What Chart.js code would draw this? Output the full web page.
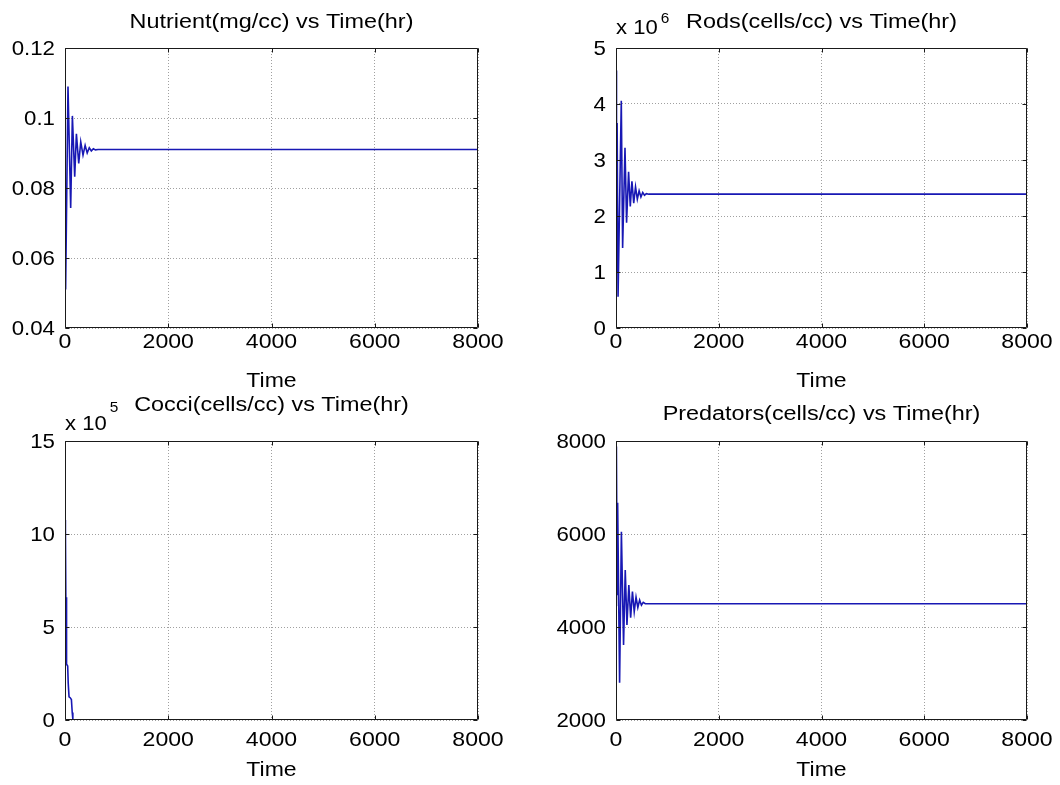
<!DOCTYPE html>
<html lang="en">
<head>
<meta charset="UTF-8">
<title>Rods, Cocci and Predators vs Time</title>
<script src="https://cdn.jsdelivr.net/npm/chart.js"></script>
<style>
  html, body { margin: 0; padding: 0; background: #fff; }
  #wrap { position: relative; width: 1060px; height: 785px; overflow: hidden; }
  .panel { position: absolute; }
</style>
</head>
<body>
<div id="wrap">
  <div class="panel" style="left:0;top:0;width:530px;height:392px"><canvas id="c1"></canvas></div>
  <div class="panel" style="left:530px;top:0;width:530px;height:392px"><canvas id="c2"></canvas></div>
  <div class="panel" style="left:0;top:392px;width:530px;height:393px"><canvas id="c3"></canvas></div>
  <div class="panel" style="left:530px;top:392px;width:530px;height:393px"><canvas id="c4"></canvas></div>
</div>
<script>
// data (time in hours)
const timeTicks = [0, 2000, 4000, 6000, 8000];

const nutrientTime = [0, 12, 58, 110, 143, 188, 221, 266, 305, 349, 390, 430, 470, 510, 550, 590, 640, 8000];
const nutrient = [0.075, 0.051, 0.109, 0.0743, 0.1006, 0.0832, 0.0955, 0.087, 0.0932, 0.0894, 0.0922, 0.0900, 0.0915, 0.0906, 0.0912, 0.0909, 0.091, 0.091];

const rodsTime = [0, 10, 22, 40, 103, 129, 175, 206, 245, 278, 310, 345, 380, 415, 450, 485, 520, 555, 590, 640, 8000];
const rods = [4.6e6, 1.0e6, 3.66e6, 0.56e6, 4.06e6, 1.43e6, 3.22e6, 1.88e6, 2.79e6, 2.17e6, 2.62e6, 2.23e6, 2.52e6, 2.30e6, 2.45e6, 2.34e6, 2.42e6, 2.37e6, 2.40e6, 2.39e6, 2.39e6];

const cocciTime = [0, 8, 20, 26, 34, 52, 62, 78, 100, 124, 140, 152, 170, 900];
const cocci = [10.75e5, 10.3e5, 4.8e5, 6.6e5, 3.0e5, 2.9e5, 2.0e5, 1.25e5, 1.2e5, 1.1e5, 0.4e5, 0.05e5, 0, 0];

const predTime = [0, 8, 22, 32, 70, 105, 147, 180, 213, 250, 285, 320, 355, 390, 425, 460, 495, 530, 570, 8000];
const predators = [4470, 7880, 4700, 6670, 2800, 6050, 3613, 5226, 4043, 4900, 4200, 4760, 4330, 4640, 4420, 4580, 4470, 4530, 4500, 4500];

const lineColor = '#1818b4';
const FONT = '"Liberation Sans", Arial, sans-serif';

function stretchText(ctx, text, x, y, align, size, sx) {
  ctx.font = size + 'px ' + FONT;
  const w = ctx.measureText(text).width * sx;
  let x0 = x;
  if (align === 'center') x0 = x - w / 2;
  if (align === 'right') x0 = x - w;
  ctx.save();
  ctx.translate(x0, y);
  ctx.scale(sx, 1);
  ctx.textAlign = 'left';
  ctx.textBaseline = 'middle';
  ctx.fillText(text, 0, 0);
  ctx.restore();
  return w;
}

// box, inward ticks, tick labels, titles
const decor = {
  id: 'decor',
  afterDraw(chart) {
    const o = chart.options.plugins.decor;
    const { ctx, chartArea: a } = chart;
    const xs = chart.scales.x, ys = chart.scales.y;
    const L = Math.round(a.left) + 0.5, R = Math.round(a.right) - 0.5;
    const T = Math.round(a.top) + 0.5, B = Math.round(a.bottom) - 0.5;
    ctx.save();
    ctx.strokeStyle = '#1a1a1a';
    ctx.lineWidth = 1;
    ctx.beginPath();
    ctx.rect(L, T, R - L, B - T);
    xs.ticks.forEach(t => {
      const px = Math.round(xs.getPixelForValue(t.value)) + 0.5;
      ctx.moveTo(px, B); ctx.lineTo(px, B - 4);
      ctx.moveTo(px, T); ctx.lineTo(px, T + 4);
    });
    ys.ticks.forEach(t => {
      const py = Math.round(ys.getPixelForValue(t.value)) + 0.5;
      ctx.moveTo(L, py); ctx.lineTo(L + 4, py);
      ctx.moveTo(R, py); ctx.lineTo(R - 4, py);
    });
    ctx.stroke();

    ctx.fillStyle = '#000';
    xs.ticks.forEach(t => {
      stretchText(ctx, t.label, xs.getPixelForValue(t.value), a.bottom + o.xLabelOff, 'center', 21, 1.1);
    });
    ys.ticks.forEach(t => {
      stretchText(ctx, t.label, a.left - 10, ys.getPixelForValue(t.value) + 1, 'right', 21, 1.06);
    });
    const cx = (a.left + a.right) / 2;
    stretchText(ctx, o.title, cx, o.titleY, 'center', 20, 1.17);
    stretchText(ctx, 'Time', cx, a.bottom + o.timeOff, 'center', 20, 1.15);
    if (o.exp) {
      const w = stretchText(ctx, 'x 10', a.left, o.expY, 'left', 21, 1.05);
      stretchText(ctx, o.exp, a.left + w + 3, o.supY, 'left', 14, 1.1);
    }
    ctx.restore();
  }
};

function makePanel(id, times, values, yMin, yMax, yStep, yFmt, pad, yWidth, deco) {
  const pts = times.map((t, i) => ({ x: t, y: values[i] }));
  return new Chart(document.getElementById(id), {
    type: 'line',
    data: {
      datasets: [{
        data: pts,
        borderColor: lineColor,
        borderWidth: 1.6,
        pointRadius: 0,
        tension: 0,
        fill: false
      }]
    },
    options: {
      responsive: true,
      maintainAspectRatio: false,
      animation: false,
      layout: { padding: pad },
      plugins: { legend: { display: false }, tooltip: { enabled: false }, decor: deco },
      scales: {
        x: {
          type: 'linear', min: 0, max: 8000,
          afterBuildTicks: s => { s.ticks = timeTicks.map(v => ({ value: v })); },
          ticks: { display: false, callback: v => String(v) },
          afterFit: s => { s.height = deco.xHeight; },
          grid: { color: '#a0a0a0', lineWidth: 1, drawTicks: false },
          border: { display: false, dash: [1, 2] }
        },
        y: {
          min: yMin, max: yMax,
          ticks: { display: false, stepSize: yStep, callback: yFmt },
          afterFit: s => { s.width = yWidth; },
          grid: { color: '#a0a0a0', lineWidth: 1, drawTicks: false },
          border: { display: false, dash: [1, 2] }
        }
      }
    },
    plugins: [decor]
  });
}

Chart.defaults.font.family = FONT;

makePanel('c1', nutrientTime, nutrient, 0.04, 0.12, 0.02,
  v => String(parseFloat(v.toFixed(2))),
  { top: 48, right: 52, left: 0, bottom: 0 }, 65,
  { title: 'Nutrient(mg/cc) vs Time(hr)', titleY: 22, xLabelOff: 14, timeOff: 53, xHeight: 64 });
makePanel('c2', rodsTime, rods, 0, 5e6, 1e6,
  v => String(Math.round(v / 1e6)),
  { top: 48, right: 33, left: 0, bottom: 0 }, 86,
  { title: 'Rods(cells/cc) vs Time(hr)', titleY: 22, xLabelOff: 14, timeOff: 53, xHeight: 64, exp: '6', expY: 28, supY: 19 });
makePanel('c3', cocciTime, cocci, 0, 15e5, 5e5,
  v => String(Math.round(v / 1e5)),
  { top: 49, right: 52, left: 0, bottom: 0 }, 65,
  { title: 'Cocci(cells/cc) vs Time(hr)', titleY: 13, xLabelOff: 20, timeOff: 50, xHeight: 65, exp: '5', expY: 32, supY: 16 });
makePanel('c4', predTime, predators, 2000, 8000, 2000,
  v => String(v),
  { top: 49, right: 33, left: 0, bottom: 0 }, 86,
  { title: 'Predators(cells/cc) vs Time(hr)', titleY: 22, xLabelOff: 20, timeOff: 50, xHeight: 65 });
</script>
</body>
</html>
